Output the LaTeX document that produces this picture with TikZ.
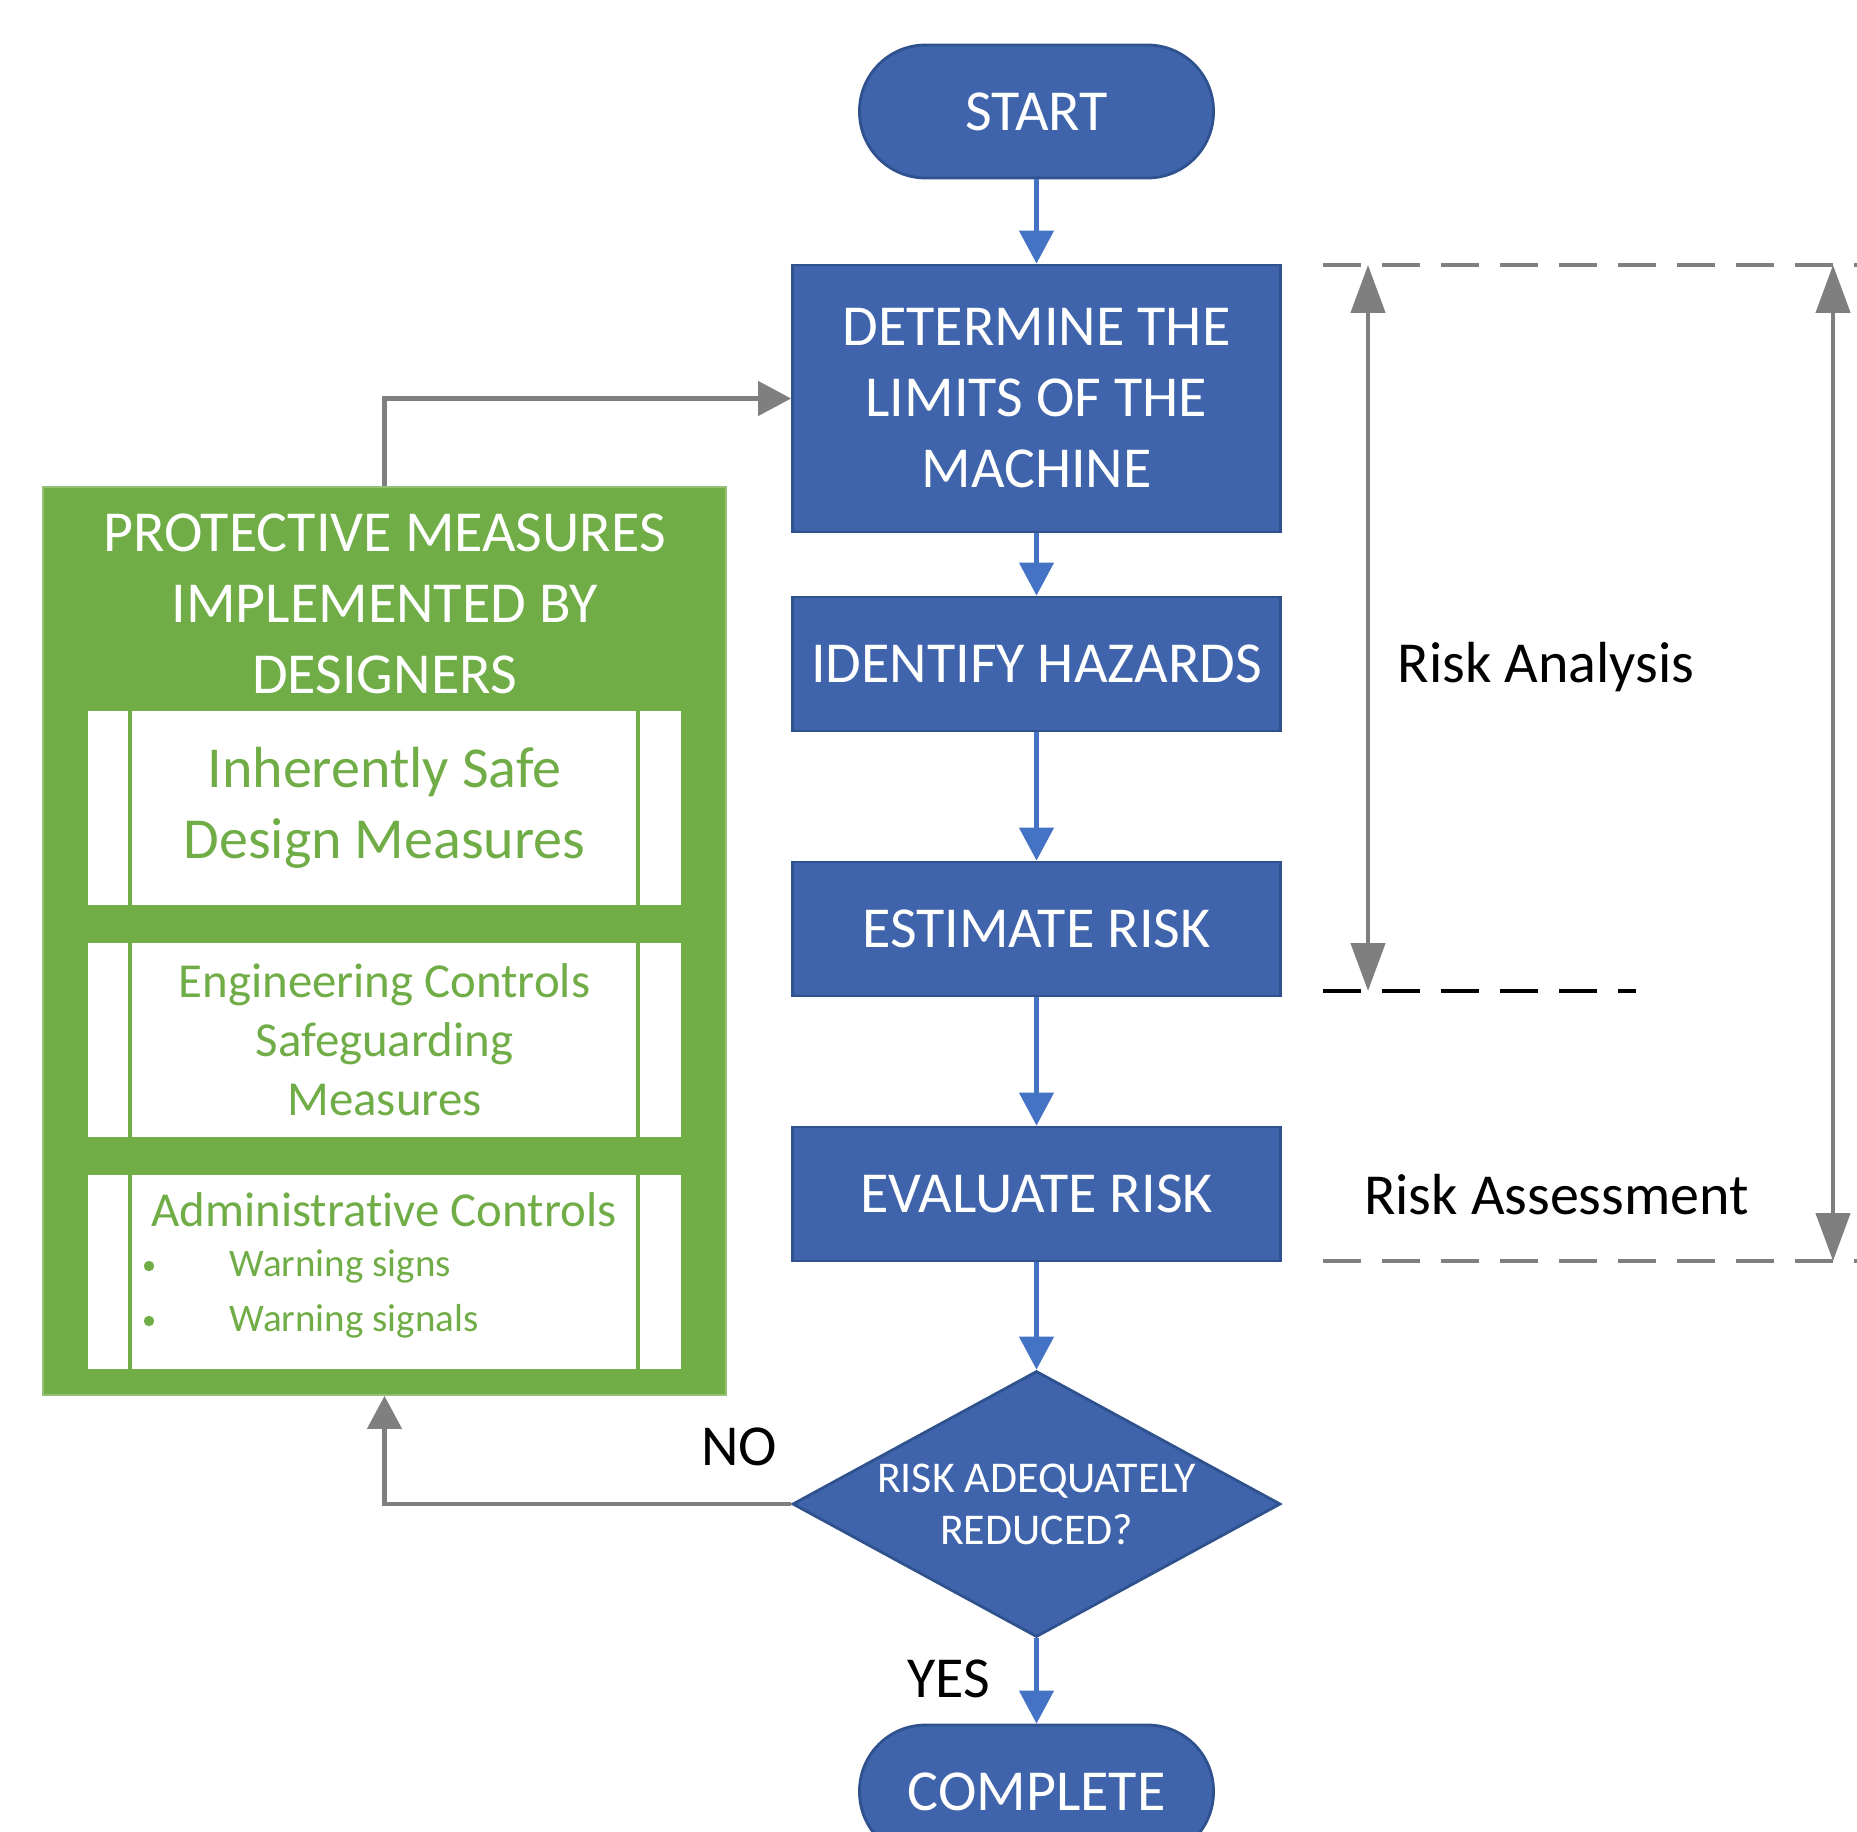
\documentclass[tikz,border=0pt]{standalone}
\usepackage{fontspec}
\setmainfont{Carlito}[Ligatures=NoCommon]
\usepackage{tikz}
\usetikzlibrary{arrows.meta,positioning,shapes.geometric}
\definecolor{boxblue}{HTML}{3F64AC}
\definecolor{edgeblue}{HTML}{2F528F}
\definecolor{flowblue}{HTML}{4472C4}
\definecolor{safegreen}{HTML}{70AD47}
\definecolor{linegray}{HTML}{7F7F7F}
\tikzset{
  stepbox/.style={rectangle, fill=boxblue, draw=edgeblue, line width=0.8pt,
    minimum width=4.88cm, minimum height=1.34cm, text=white, align=center, inner sep=0pt},
  terminal/.style={stepbox, rounded corners=6.6mm, minimum width=3.54cm, minimum height=1.33cm},
  guardbox/.style={rectangle, fill=white, minimum width=5.93cm, minimum height=1.94cm,
    text=safegreen, align=center, inner sep=0pt},
  flow/.style={draw=flowblue, line width=1.3pt, -{Triangle[width=3.4mm,length=3.3mm]}},
  loopback/.style={draw=linegray, line width=1.3pt, -{Triangle[width=3.4mm,length=3.3mm]}},
  span/.style={draw=linegray, line width=1.3pt,
    {Triangle[width=3.4mm,length=4.8mm]}-{Triangle[width=3.4mm,length=4.8mm]}},
  guide/.style={line width=1.2pt, dash pattern=on 3.8mm off 2.1mm},
}

\begin{document}
\begin{tikzpicture}[every node/.style={font=\fontsize{16.5}{20.2}\selectfont}]
\useasboundingbox (0,0) rectangle (18.57,-18.31);
\clip (0,0) rectangle (18.57,-18.31);
% Main flow
\node[terminal] (start) at (10.365,-1.115) {START};
\node[stepbox, minimum height=2.67cm] (limits) at (10.365,-3.985) {DETERMINE THE\\LIMITS OF THE\\MACHINE};
\node[stepbox] (identify) at (10.365,-6.64) {IDENTIFY HAZARDS};
\node[stepbox] (estimate) at (10.365,-9.29) {ESTIMATE RISK};
\node[stepbox] (evaluate) at (10.365,-11.94) {EVALUATE RISK};
\node[stepbox, diamond, shape aspect=1.83, minimum height=2.66cm,
  font=\fontsize{12.5}{14.8}\selectfont] (reduced) at (10.365,-15.04) {RISK ADEQUATELY\\REDUCED?};
\node[terminal] (complete) at (10.365,-17.915) {COMPLETE};
\foreach \a/\b in {start/limits, limits/identify, identify/estimate,
  estimate/evaluate, evaluate/reduced, reduced/complete}
  \draw[flow] (\a) -- (\b);
\node (yes) at (9.49,-16.79) {YES};
\node (no) at (7.39,-14.47) {NO};
% Protective measures block
\node[fill=safegreen, draw=safegreen!75!white, line width=0.5pt, minimum width=6.83cm,
  minimum height=9.08cm, inner sep=0pt] (measures) at (3.845,-9.41) {};
\node[text=white, align=center] (measurestitle) at (3.845,-6.04) {PROTECTIVE MEASURES\\IMPLEMENTED BY\\DESIGNERS};
\node[guardbox] (inherent) at (3.845,-8.08) {Inherently Safe\\Design Measures};
\node[guardbox, font=\fontsize{13.9}{16.8}\selectfont] (engineering) at (3.845,-10.40) {Engineering Controls\\Safeguarding\\Measures};
\node[guardbox] (admin) at (3.845,-12.715) {};
\foreach \b in {inherent, engineering, admin}{
  \draw[safegreen, line width=1.1pt] ([xshift=4.3mm]\b.north west) -- ([xshift=4.3mm]\b.south west);
  \draw[safegreen, line width=1.1pt] ([xshift=-4.4mm]\b.north east) -- ([xshift=-4.4mm]\b.south east);
}
\node[text=safegreen, font=\fontsize{13.9}{16.8}\selectfont] (admintitle) at (3.84,-12.10) {Administrative Controls};
\foreach \n/\y/\t in {signs/-12.66/Warning signs, signals/-13.21/Warning signals}{
  \fill[safegreen] (1.49,\y) circle (0.052);
  \node[text=safegreen, anchor=west, inner sep=0pt, font=\fontsize{11.1}{13.3}\selectfont] (\n) at (2.29,\y) {\t};
}
% Loop back
\draw[loopback] (reduced.west) -| (measures.south);
\draw[loopback] (measures.north) |- (limits.west);
% Risk analysis and assessment spans
\coordinate (toplinea) at (13.23,-2.65);
\coordinate (toplineb) at (18.57,-2.65);
\coordinate (midlinea) at (13.23,-9.91);
\coordinate (midlineb) at (16.36,-9.91);
\coordinate (botlinea) at (13.23,-12.61);
\coordinate (botlineb) at (18.57,-12.61);
\draw[guide, linegray] (toplinea) -- (toplineb);
\draw[guide, black] (midlinea) -- (midlineb);
\draw[guide, linegray] (botlinea) -- (botlineb);
\coordinate (analysistop) at (13.68,-2.65);
\coordinate (analysisbot) at (13.68,-9.91);
\coordinate (assesstop) at (18.33,-2.65);
\coordinate (assessbot) at (18.33,-12.61);
\draw[span] (analysistop) -- (analysisbot);
\draw[span] (assesstop) -- (assessbot);
\node (analysis) at (15.46,-6.67) {Risk Analysis};
\node (assessment) at (15.565,-11.95) {Risk Assessment};
\end{tikzpicture}
\end{document}
